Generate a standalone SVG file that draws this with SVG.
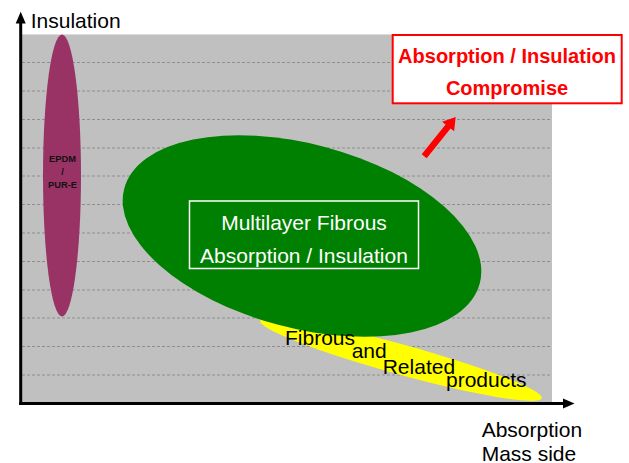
<svg xmlns="http://www.w3.org/2000/svg" width="629" height="463" viewBox="0 0 629 463">
<style>
text{font-family:"Liberation Sans",Arial,sans-serif}
.grid{stroke:#8e8e8e;stroke-width:1;stroke-dasharray:3 2}
.lbl{font-size:21px;fill:#000}
.wt{font-size:21px;fill:#fff;text-anchor:middle}
.rt{font-size:20px;font-weight:bold;fill:#ff0000;text-anchor:middle}
.ep{font-size:9.3px;font-weight:bold;fill:#111;text-anchor:middle}
</style>
<rect width="629" height="463" fill="#fff"/>
<g id="plot-area">
<rect x="20" y="34" width="532" height="370" fill="#c0c0c0"/>
<line x1="20" y1="34.5" x2="552" y2="34.5" stroke="#dcdcdc" stroke-width="1"/>
<g class="grid">
<line x1="22" y1="62.5" x2="552" y2="62.5"/>
<line x1="22" y1="91" x2="552" y2="91"/>
<line x1="22" y1="119.5" x2="552" y2="119.5"/>
<line x1="22" y1="148" x2="552" y2="148"/>
<line x1="22" y1="176" x2="552" y2="176"/>
<line x1="22" y1="204.5" x2="552" y2="204.5"/>
<line x1="22" y1="233" x2="552" y2="233"/>
<line x1="22" y1="261.5" x2="552" y2="261.5"/>
<line x1="22" y1="290" x2="552" y2="290"/>
<line x1="22" y1="318" x2="552" y2="318"/>
<line x1="22" y1="346.5" x2="552" y2="346.5"/>
<line x1="22" y1="375" x2="552" y2="375"/>
</g>
</g>
<g id="epdm">
<ellipse cx="62" cy="175.5" rx="19" ry="141" fill="#993366"/>
<text class="ep" x="62.5" y="162">EPDM</text>
<text class="ep" x="62.5" y="174.5">/</text>
<text class="ep" x="62.5" y="187.5">PUR-E</text>
</g>
<g id="fibrous">
<ellipse cx="401" cy="359.5" rx="146" ry="15" transform="rotate(15.4 401 359.5)" fill="#ffff00"/>
</g>
<g id="multilayer">
<ellipse cx="302" cy="236" rx="184" ry="92" transform="rotate(15 302 236)" fill="#008000"/>
<rect x="189.5" y="201" width="229" height="67.5" fill="none" stroke="#fff" stroke-width="1.5"/>
<text class="wt" x="304" y="230">Multilayer Fibrous</text>
<text class="wt" x="304" y="262.5">Absorption / Insulation</text>
</g>
<g id="fibrous-label">
<text class="lbl" x="285" y="345">Fibrous</text>
<text class="lbl" x="351.7" y="357.5">and</text>
<text class="lbl" x="382.7" y="374">Related</text>
<text class="lbl" x="446" y="386.7">products</text>
</g>
<g id="compromise">
<rect x="392.7" y="35" width="229" height="68.3" fill="#fff" stroke="#ff0000" stroke-width="2"/>
<text class="rt" x="507" y="63.3">Absorption / Insulation</text>
<text class="rt" x="507" y="95">Compromise</text>
</g>
<g id="connectors">
<line x1="20.7" y1="405" x2="20.7" y2="22" stroke="#000" stroke-width="3"/>
<polygon points="20.7,11.7 15.7,23.5 25.7,23.5" fill="#000"/>
<line x1="19.2" y1="403.5" x2="564" y2="403.5" stroke="#000" stroke-width="3"/>
<polygon points="574.5,403.5 563,398.5 563,408.5" fill="#000"/>
<polygon points="421.7,154.3 445.6,124.5 442.1,121.7 455.7,117 454.1,131.3 450.6,128.5 426.7,158.3" fill="#ff0000"/>
</g>
<g id="axis-labels">
<text class="lbl" x="30.7" y="28">Insulation</text>
<text class="lbl" x="481.7" y="437">Absorption</text>
<text class="lbl" x="481.7" y="460.5">Mass side</text>
</g>
</svg>
